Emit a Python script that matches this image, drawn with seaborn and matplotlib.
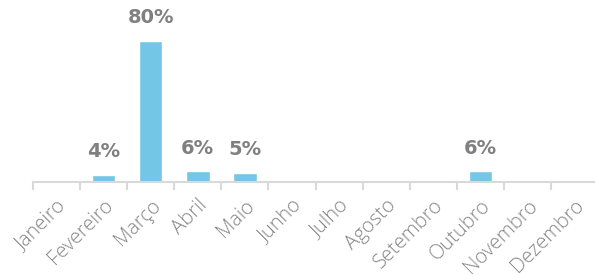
import numpy as np
import pandas as pd
import seaborn as sns
import matplotlib.pyplot as plt

# data
meses = ['Janeiro', 'Fevereiro', 'Março', 'Abril', 'Maio', 'Junho',
         'Julho', 'Agosto', 'Setembro', 'Outubro', 'Novembro', 'Dezembro']
valores = [0, 4, 80, 6, 5, 0, 0, 0, 0, 6, 0, 0]

df = pd.DataFrame({'mes': meses, 'valor': valores})

sns.set_style('white')
plt.rcParams['font.family'] = ['Open Sans', 'DejaVu Sans']
plt.rcParams['xtick.bottom'] = True

fig = plt.figure(figsize=(5.95, 2.75), dpi=100)
ax = fig.add_axes([33 / 595, 93 / 275, 565 / 595, 182 / 275])

sns.barplot(data=df, x='mes', y='valor', color='#74c6e6', saturation=1,
            width=0.5, ax=ax)

ax.set_ylim(0, 80 * 182 / 141)
ax.set_xlim(-0.5, 11.5)
ax.set_xlabel('')
ax.set_ylabel('')
ax.set_yticks([])

for s in ['top', 'right', 'left']:
    ax.spines[s].set_visible(False)
ax.spines['bottom'].set_color('#d9d9d9')
ax.spines['bottom'].set_linewidth(1.5)

# category separators as ticks
ax.set_xticks(range(len(meses)))
ax.set_xticks(np.arange(-0.5, 12, 1), minor=True)
ax.tick_params(axis='x', which='minor', bottom=True, length=6, width=1.5,
               color='#d9d9d9', direction='out')
ax.tick_params(axis='x', which='major', length=0, pad=10)
ax.set_xticklabels(meses, rotation=45, ha='right', rotation_mode='anchor',
                   fontsize=14.5, color='#858585', fontweight='light')

for i, v in enumerate(valores):
    if v > 0:
        ax.annotate(f'{v}%', (i, v), xytext=(0, 10), textcoords='offset points',
                    ha='center', va='bottom', fontsize=14, fontweight='bold',
                    color='#808080', family=['DejaVu Sans'])

fig.savefig('out.png', dpi=100)
